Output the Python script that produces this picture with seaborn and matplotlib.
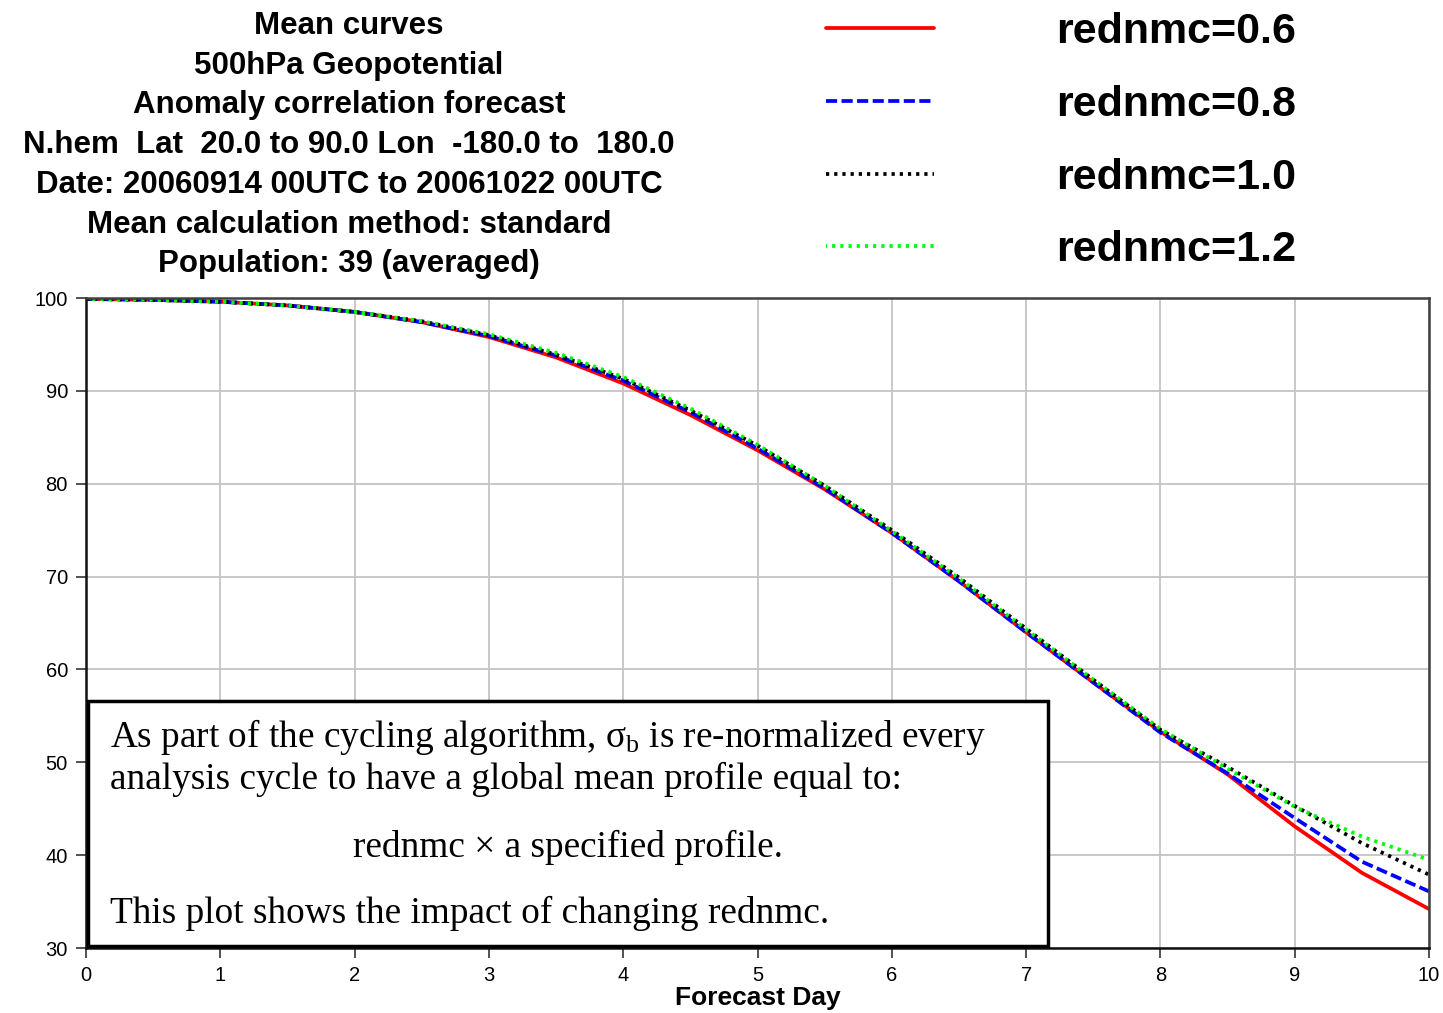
import matplotlib
matplotlib.use("Agg")
import matplotlib.pyplot as plt
from matplotlib.patches import Rectangle
import seaborn as sns
import pandas as pd

# Forecast days (12-hourly steps)
days = [0.0, 0.5, 1.0, 1.5, 2.0, 2.5, 3.0, 3.5, 4.0, 4.5, 5.0,
        5.5, 6.0, 6.5, 7.0, 7.5, 8.0, 8.5, 9.0, 9.5, 10.0]

# Anomaly correlation (%) for each rednmc setting
acc_06 = [99.9, 99.8, 99.6, 99.2, 98.5, 97.4, 95.8, 93.6, 90.8, 87.4, 83.6,
          79.4, 74.7, 69.5, 64.0, 58.6, 53.3, 48.7, 43.1, 38.1, 34.2]
acc_08 = [99.9, 99.8, 99.6, 99.2, 98.5, 97.4, 95.9, 93.8, 91.1, 87.7, 83.8,
          79.5, 74.7, 69.5, 64.0, 58.6, 53.2, 48.8, 44.0, 39.3, 36.1]
acc_10 = [99.9, 99.8, 99.6, 99.2, 98.5, 97.5, 96.0, 93.9, 91.3, 87.9, 84.1,
          79.8, 75.0, 69.9, 64.4, 58.9, 53.5, 49.5, 45.3, 41.3, 37.9]
acc_12 = [99.9, 99.8, 99.6, 99.2, 98.5, 97.5, 96.1, 94.1, 91.5, 88.1, 84.2,
          79.8, 74.9, 69.8, 64.3, 58.9, 53.6, 49.3, 45.2, 42.0, 39.5]

series_labels = ["rednmc=0.6", "rednmc=0.8", "rednmc=1.0", "rednmc=1.2"]
series_values = [acc_06, acc_08, acc_10, acc_12]

title_lines = [
    "Mean curves",
    "500hPa Geopotential",
    "Anomaly correlation forecast",
    "N.hem  Lat  20.0 to 90.0 Lon  -180.0 to  180.0",
    "Date: 20060914 00UTC to 20061022 00UTC",
    "Mean calculation method: standard",
    "Population: 39 (averaged)",
]

note_lines = [
    r"As part of the cycling algorithm, $\sigma_{b}$ is re-normalized every",
    "analysis cycle to have a global mean profile equal to:",
    "rednmc \u00d7 a specified profile.",
    "This plot shows the impact of changing rednmc.",
]

xticks = list(range(0, 11))
yticks = list(range(30, 101, 10))

df = pd.concat(
    [pd.DataFrame({"day": days, "acc": v, "run": lab})
     for lab, v in zip(series_labels, series_values)],
    ignore_index=True,
)

sns.set_theme(style="white")
plt.rcParams["font.family"] = ["Liberation Sans", "DejaVu Sans"]
plt.rcParams["text.color"] = "black"
plt.rcParams["axes.labelcolor"] = "black"
plt.rcParams["xtick.color"] = "black"
plt.rcParams["ytick.color"] = "black"
plt.rcParams["mathtext.fontset"] = "custom"
plt.rcParams["mathtext.rm"] = "Liberation Serif"
plt.rcParams["mathtext.it"] = "Liberation Serif"
plt.rcParams["mathtext.bf"] = "Liberation Serif:bold"
plt.rcParams["lines.scale_dashes"] = False

W, H = 1443, 1013
fig = plt.figure(figsize=(W / 100, H / 100), dpi=100)
L, R, T, B = 86, 1429, 298, 948
ax = fig.add_axes([L / W, 1 - B / H, (R - L) / W, (B - T) / H])

styles = {
    "rednmc=0.6": dict(color="#ff0000", linestyle="-"),
    "rednmc=0.8": dict(color="#0000ff", linestyle=(0, (8, 3.2))),
    "rednmc=1.0": dict(color="#000000", linestyle=(0, (2.3, 3.6))),
    "rednmc=1.2": dict(color="#00ff00", linestyle=(1.5, (2.3, 3.6))),
}

handles = []
for lab in series_labels:
    sub = df[df["run"] == lab]
    sns.lineplot(data=sub, x="day", y="acc", ax=ax, linewidth=2.7,
                 legend=False, **styles[lab])
    handles.append(ax.get_lines()[-1])

ax.set_xlim(0, 10)
ax.set_ylim(30, 100)
ax.set_xticks(xticks)
ax.set_yticks(yticks)
ax.set_xticklabels([str(t) for t in xticks], fontsize=14.5)
ax.set_yticklabels([str(t) for t in yticks], fontsize=14.5)
ax.tick_params(axis="both", which="major", direction="out", length=7,
               width=1.2, color="#333333", pad=6, bottom=True, left=True)
ax.grid(True, color="#c4c4c4", linewidth=1.3)
ax.set_axisbelow(True)
for side, sp in ax.spines.items():
    sp.set_visible(True)
    sp.set_color("#111111" if side in ("left", "bottom") else "#404040")
    sp.set_linewidth(1.8)
ax.set_xlabel("Forecast Day", fontsize=19, fontweight="bold", labelpad=1)
ax.set_ylabel("")

# Title block
for i, line in enumerate(title_lines):
    fig.text(349 / W, 1 - (26 + i * 39.7) / H, line, ha="center", va="center",
             fontsize=22.5, fontweight="bold")

# Legend to the upper right
fig.legend(handles, series_labels, loc="upper left",
           bbox_to_anchor=(809 / W, 1 + 5 / H), frameon=False,
           prop={"weight": "bold", "size": 31},
           handlelength=2.5, handletextpad=2.85, labelspacing=0.76,
           borderaxespad=0)

# Annotation box
box = Rectangle((88 / W, 1 - 946 / H), (1048 - 88) / W, (946 - 701) / H,
                transform=fig.transFigure, facecolor="white",
                edgecolor="black", linewidth=2.5, zorder=5)
fig.add_artist(box)
serif = ["Liberation Serif", "DejaVu Serif"]
fig.text(110 / W, 1 - 737 / H, note_lines[0], ha="left", va="center",
         fontsize=26.8, family=serif, zorder=6)
fig.text(110 / W, 1 - 779 / H, note_lines[1], ha="left", va="center",
         fontsize=26.8, family=serif, zorder=6)
fig.text(568 / W, 1 - 847 / H, note_lines[2], ha="center", va="center",
         fontsize=26.8, family=serif, zorder=6)
fig.text(110 / W, 1 - 913 / H, note_lines[3], ha="left", va="center",
         fontsize=26.8, family=serif, zorder=6)

fig.savefig("out.png", dpi=100, facecolor="white")
